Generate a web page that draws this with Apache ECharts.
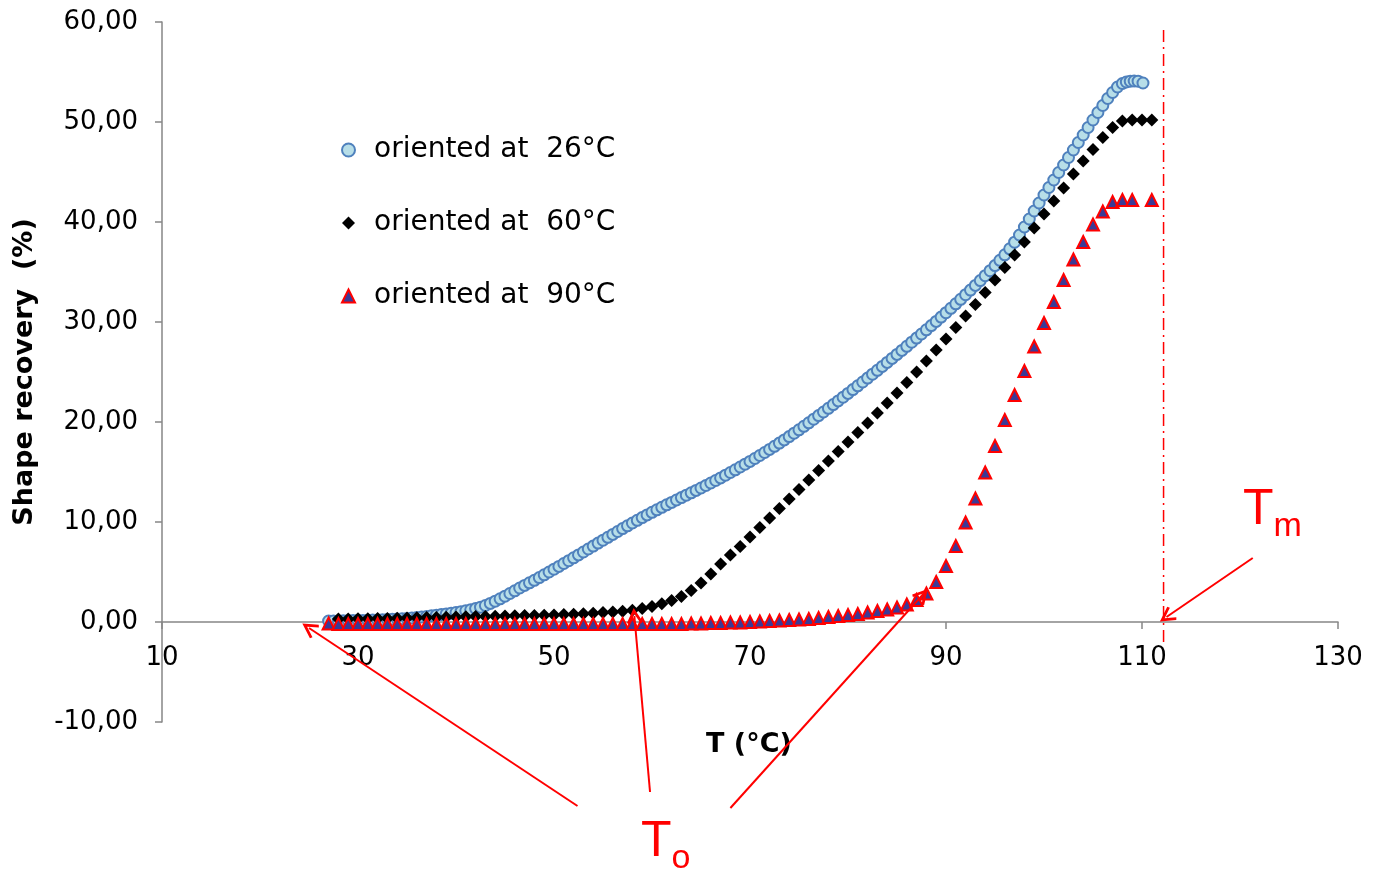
<!DOCTYPE html>
<html>
<head>
<meta charset="utf-8">
<title>Shape recovery vs temperature</title>
<script src="https://cdn.jsdelivr.net/npm/echarts@6/dist/echarts.min.js"></script>
<style>
  html, body { margin: 0; padding: 0; background: #ffffff; }
  #chart { width: 1375px; height: 873px; }
</style>
</head>
<body>
<div id="chart"></div>
<script>
// Samples oriented at 26 °C (recorded every ~0.5 °C)
const temp26 = [
  27.0, 27.5, 28.0, 28.5, 29.0, 29.5, 30.0, 30.5, 31.0, 31.5,
  32.0, 32.5, 33.0, 33.5, 34.0, 34.5, 35.0, 35.5, 36.0, 36.5,
  37.0, 37.5, 38.0, 38.5, 39.0, 39.5, 40.0, 40.5, 41.0, 41.5,
  42.0, 42.5, 43.0, 43.5, 44.0, 44.5, 45.0, 45.5, 46.0, 46.5,
  47.0, 47.5, 48.0, 48.5, 49.0, 49.5, 50.0, 50.5, 51.0, 51.5,
  52.0, 52.5, 53.0, 53.5, 54.0, 54.5, 55.0, 55.5, 56.0, 56.5,
  57.0, 57.5, 58.0, 58.5, 59.0, 59.5, 60.0, 60.5, 61.0, 61.5,
  62.0, 62.5, 63.0, 63.5, 64.0, 64.5, 65.0, 65.5, 66.0, 66.5,
  67.0, 67.5, 68.0, 68.5, 69.0, 69.5, 70.0, 70.5, 71.0, 71.5,
  72.0, 72.5, 73.0, 73.5, 74.0, 74.5, 75.0, 75.5, 76.0, 76.5,
  77.0, 77.5, 78.0, 78.5, 79.0, 79.5, 80.0, 80.5, 81.0, 81.5,
  82.0, 82.5, 83.0, 83.5, 84.0, 84.5, 85.0, 85.5, 86.0, 86.5,
  87.0, 87.5, 88.0, 88.5, 89.0, 89.5, 90.0, 90.5, 91.0, 91.5,
  92.0, 92.5, 93.0, 93.5, 94.0, 94.5, 95.0, 95.5, 96.0, 96.5,
  97.0, 97.5, 98.0, 98.5, 99.0, 99.5, 100.0, 100.5, 101.0, 101.5,
  102.0, 102.5, 103.0, 103.5, 104.0, 104.5, 105.0, 105.5, 106.0, 106.5,
  107.0, 107.5, 108.0, 108.4, 108.8, 109.2, 109.6, 110.1
];
const recovery26 = [
  0.10, 0.10, 0.11, 0.12, 0.13, 0.14, 0.15, 0.16, 0.18, 0.19,
  0.21, 0.23, 0.25, 0.27, 0.29, 0.32, 0.35, 0.39, 0.44, 0.50,
  0.56, 0.62, 0.68, 0.74, 0.81, 0.88, 0.95, 1.03, 1.12, 1.22,
  1.34, 1.48, 1.65, 1.86, 2.08, 2.32, 2.58, 2.85, 3.12, 3.40,
  3.66, 3.92, 4.17, 4.44, 4.72, 5.00, 5.28, 5.56, 5.85, 6.13,
  6.42, 6.71, 7.00, 7.30, 7.59, 7.89, 8.18, 8.47, 8.76, 9.05,
  9.34, 9.62, 9.90, 10.17, 10.44, 10.71, 10.97, 11.22, 11.47, 11.72,
  11.96, 12.20, 12.44, 12.68, 12.92, 13.16, 13.40, 13.65, 13.90, 14.15,
  14.41, 14.68, 14.95, 15.22, 15.50, 15.78, 16.06, 16.35, 16.65, 16.95,
  17.26, 17.57, 17.89, 18.21, 18.54, 18.88, 19.22, 19.57, 19.92, 20.28,
  20.64, 21.00, 21.37, 21.74, 22.11, 22.48, 22.86, 23.24, 23.62, 24.00,
  24.39, 24.78, 25.17, 25.56, 25.96, 26.36, 26.76, 27.16, 27.57, 27.98,
  28.39, 28.80, 29.22, 29.64, 30.06, 30.49, 30.93, 31.37, 31.82, 32.27,
  32.73, 33.19, 33.66, 34.14, 34.63, 35.13, 35.64, 36.17, 36.72, 37.32,
  37.98, 38.70, 39.50, 40.30, 41.10, 41.90, 42.70, 43.45, 44.20, 44.95,
  45.70, 46.45, 47.20, 47.95, 48.70, 49.45, 50.20, 50.95, 51.65, 52.35,
  52.95, 53.50, 53.85, 54.00, 54.08, 54.10, 54.08, 53.90
];

// Samples oriented at 60 °C (every 1 °C)
const temp60 = [
  28, 29, 30, 31, 32, 33, 34, 35, 36, 37, 38, 39, 40, 41, 42, 43, 44, 45, 46, 47,
  48, 49, 50, 51, 52, 53, 54, 55, 56, 57, 58, 59, 60, 61, 62, 63, 64, 65, 66, 67,
  68, 69, 70, 71, 72, 73, 74, 75, 76, 77, 78, 79, 80, 81, 82, 83, 84, 85, 86, 87,
  88, 89, 90, 91, 92, 93, 94, 95, 96, 97, 98, 99, 100, 101, 102, 103, 104, 105, 106, 107,
  108, 109, 110, 111
];
const recovery60 = [
  0.30, 0.31, 0.32, 0.33, 0.35, 0.36, 0.38, 0.40, 0.42, 0.44, 0.46, 0.48, 0.50, 0.52, 0.54, 0.56, 0.58, 0.60, 0.62, 0.64,
  0.66, 0.68, 0.71, 0.74, 0.78, 0.83, 0.88, 0.94, 1.00, 1.08, 1.18, 1.35, 1.55, 1.82, 2.15, 2.55, 3.15, 3.90, 4.80, 5.80,
  6.70, 7.55, 8.50, 9.45, 10.40, 11.35, 12.30, 13.25, 14.20, 15.15, 16.10, 17.05, 18.00, 18.95, 19.90, 20.90, 21.90, 22.90, 23.95, 25.00,
  26.10, 27.20, 28.30, 29.45, 30.60, 31.75, 32.95, 34.20, 35.45, 36.70, 38.00, 39.40, 40.80, 42.10, 43.40, 44.80, 46.10, 47.25, 48.45, 49.45,
  50.10, 50.20, 50.20, 50.20
];

// Samples oriented at 90 °C (every 1 °C, 110 °C missing)
const temp90 = [
  27, 28, 29, 30, 31, 32, 33, 34, 35, 36, 37, 38, 39, 40, 41, 42, 43, 44, 45, 46,
  47, 48, 49, 50, 51, 52, 53, 54, 55, 56, 57, 58, 59, 60, 61, 62, 63, 64, 65, 66,
  67, 68, 69, 70, 71, 72, 73, 74, 75, 76, 77, 78, 79, 80, 81, 82, 83, 84, 85, 86,
  87, 88, 89, 90, 91, 92, 93, 94, 95, 96, 97, 98, 99, 100, 101, 102, 103, 104, 105, 106,
  107, 108, 109, 111
];
const recovery90 = [
  -0.15, -0.20, -0.20, -0.20, -0.20, -0.20, -0.20, -0.20, -0.20, -0.20, -0.20, -0.20, -0.20, -0.20, -0.20, -0.20, -0.20, -0.20, -0.20, -0.20,
  -0.20, -0.20, -0.20, -0.20, -0.20, -0.20, -0.20, -0.20, -0.20, -0.20, -0.20, -0.20, -0.20, -0.20, -0.20, -0.20, -0.20, -0.15, -0.15, -0.10,
  -0.10, -0.05, -0.05, 0.00, 0.05, 0.10, 0.15, 0.20, 0.25, 0.30, 0.40, 0.50, 0.60, 0.70, 0.80, 0.95, 1.10, 1.25, 1.45, 1.75,
  2.20, 2.85, 4.00, 5.60, 7.60, 9.95, 12.35, 14.95, 17.60, 20.20, 22.70, 25.10, 27.55, 29.90, 32.00, 34.20, 36.25, 38.00, 39.75, 41.05,
  42.00, 42.20, 42.20, 42.20
];

const seriesNames = ['oriented at  26°C', 'oriented at  60°C', 'oriented at  90°C'];

// Melting temperature marker (°C) and its vertical extent (%)
const meltTemp = 112.2;
const meltSpan = [59.2, -2.3];

// Annotation arrows: [from, to] in (°C, %)
const onsetArrows = [
  [[52.4, -18.4], [25.0, -0.6]],
  [[59.8, -17.0], [58.2, 0.6]],
  [[68.0, -18.6], [87.6, 2.7]]
];
const meltArrow = [[121.3, 6.4], [112.5, 0.5]];

const zip = (xs, ys) => xs.map((x, i) => [x, ys[i]]);
const fmtComma = v => v.toFixed(2).replace('.', ',');

const FONT = '"DejaVu Sans", Verdana, sans-serif';
const LABEL_FONT = '"Liberation Sans", Arial, sans-serif';
const AXIS_GREY = '#868686';
const RED = '#ff0000';
// open "V" arrow head, tip at the top
const OPEN_HEAD = 'path://M5,0 L10,9 L8.6,10 L5,3.6 L1.4,10 L0,9 Z';

const subscriptRich = {
  T: { fontFamily: LABEL_FONT, fontSize: 50, fill: RED, verticalAlign: 'bottom' },
  s: { fontFamily: LABEL_FONT, fontSize: 34, fill: RED, verticalAlign: 'bottom', padding: [0, 0, -9, 0] }
};

const chart = echarts.init(document.getElementById('chart'), null, { renderer: 'canvas' });

chart.setOption({
  animation: false,
  backgroundColor: '#ffffff',
  grid: { left: 162, right: 37, top: 22, bottom: 151, containLabel: false },
  legend: {
    data: seriesNames,
    orient: 'vertical',
    left: 336,
    top: 131,
    itemGap: 45,
    itemWidth: 13,
    itemHeight: 13,
    textStyle: { fontFamily: FONT, fontSize: 28, color: '#000', padding: [0, 0, 0, 14] }
  },
  xAxis: {
    type: 'value',
    min: 10,
    max: 130,
    interval: 20,
    // the temperature axis sits on the 0 % level (10 % above the bottom of the plot)
    offset: -100,
    axisLine: { onZero: false, lineStyle: { color: AXIS_GREY, width: 1.5 } },
    axisTick: { show: true, length: 7, lineStyle: { color: AXIS_GREY, width: 1.5 } },
    axisLabel: { fontFamily: FONT, fontSize: 26, color: '#000', margin: 23 },
    splitLine: { show: false }
  },
  yAxis: {
    type: 'value',
    min: -10,
    max: 60,
    interval: 10,
    name: 'Shape recovery  (%)',
    nameLocation: 'middle',
    nameGap: 124,
    nameRotate: 90,
    nameTextStyle: { fontFamily: FONT, fontSize: 27, fontWeight: 'bold', color: '#000' },
    axisLine: { show: true, lineStyle: { color: AXIS_GREY, width: 1.5 } },
    axisTick: { show: true, length: 7, lineStyle: { color: AXIS_GREY, width: 1.5 } },
    axisLabel: { fontFamily: FONT, fontSize: 26, color: '#000', margin: 24, formatter: fmtComma },
    splitLine: { show: false }
  },
  series: [
    {
      name: seriesNames[0],
      type: 'scatter',
      data: zip(temp26, recovery26),
      symbol: 'circle',
      symbolSize: 11,
      itemStyle: { color: '#b7dee8', borderColor: '#4f81bd', borderWidth: 2, opacity: 1 }
    },
    {
      name: seriesNames[1],
      type: 'scatter',
      data: zip(temp60, recovery60),
      symbol: 'diamond',
      symbolSize: 13,
      itemStyle: { color: '#000000', opacity: 1 }
    },
    {
      name: seriesNames[2],
      type: 'scatter',
      data: zip(temp90, recovery90),
      symbol: 'triangle',
      symbolSize: 12,
      itemStyle: { color: '#3b3a96', borderColor: RED, borderWidth: 2, opacity: 1 }
    },
    {
      name: 'Tm line',
      type: 'line',
      data: [[meltTemp, meltSpan[0]], [meltTemp, meltSpan[1]]],
      symbol: 'none',
      clip: false,
      lineStyle: { color: RED, width: 1.5, type: [12, 5, 2, 5] },
      z: 1
    },
    {
      name: 'arrows',
      type: 'lines',
      coordinateSystem: 'cartesian2d',
      clip: false,
      symbol: ['none', OPEN_HEAD],
      symbolSize: 16,
      lineStyle: { color: RED, width: 2, opacity: 1, curveness: 0 },
      data: onsetArrows.concat([meltArrow]).map(c => ({ coords: c })),
      z: 5
    }
  ],
  graphic: [
    {
      // x-axis title
      type: 'text',
      left: 706,
      top: 731,
      style: {
        text: 'T (°C)',
        fontFamily: FONT,
        fontSize: 27,
        fontWeight: 'bold',
        fill: '#000'
      }
    },
    {
      type: 'text',
      left: 1243,
      top: 485,
      style: { text: '{T|T}{s|m}', rich: subscriptRich }
    },
    {
      type: 'text',
      left: 641,
      top: 817,
      style: { text: '{T|T}{s|o}', rich: subscriptRich }
    }
  ]
});
</script>
</body>
</html>
